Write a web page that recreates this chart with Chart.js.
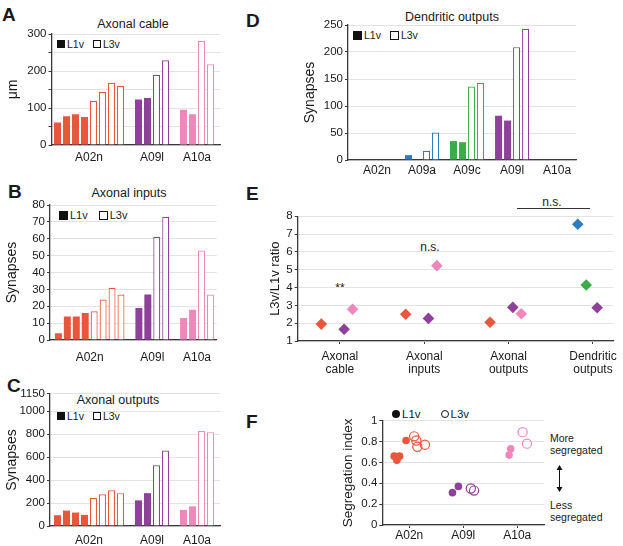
<!DOCTYPE html>
<html lang="en">
<head>
  <meta charset="UTF-8" />
  <title>L1v vs L3v neurons</title>
  <script src="https://cdn.jsdelivr.net/npm/chart.js"></script>
  <style>
    * { margin: 0; padding: 0; box-sizing: border-box; }
    body {
      width: 623px; height: 546px; position: relative; overflow: hidden;
      background: #fff; color: #1a1a1a;
      font-family: 'Liberation Sans', Arial, Helvetica, sans-serif;
    }
    canvas { position: absolute; }
    .txt { position: absolute; white-space: nowrap; line-height: 1; }
    .letra { font-weight: bold; font-size: 19px; }
    .titulo { font-size: 12.5px; transform: translateX(-50%); }
    .leg { position: absolute; display: flex; align-items: center; font-size: 10.5px; height: 10px; line-height: 10px; }
    .sq { display: inline-block; width: 8px; height: 8px; margin-right: 2px; }
    .sq.cheio { background: #111; }
    .sq.vazio { border: 1px solid #111; margin-left: 9px; }
    .dot { display: inline-block; width: 8px; height: 8px; border-radius: 50%; margin-right: 2px; }
    .dot.cheio { background: #111; }
    .dot.vazio { border: 1px solid #111; margin-left: 20px; }
    .nota { font-size: 12px; }
    .lado { position: absolute; font-size: 10.5px; line-height: 11.5px; }
  </style>
</head>
<body>
  <!-- panel letters -->
  <div class="txt letra" style="left:2px; top:5px;">A</div>
  <div class="txt letra" style="left:8px; top:182px;">B</div>
  <div class="txt letra" style="left:7px; top:376px;">C</div>
  <div class="txt letra" style="left:246px; top:11px;">D</div>
  <div class="txt letra" style="left:246px; top:184px;">E</div>
  <div class="txt letra" style="left:246px; top:412px;">F</div>

  <!-- panel titles -->
  <div class="txt titulo" style="left:133px; top:18px;">Axonal cable</div>
  <div class="txt titulo" style="left:129px; top:187px;">Axonal inputs</div>
  <div class="txt titulo" style="left:118px; top:394px;">Axonal outputs</div>
  <div class="txt titulo" style="left:452px; top:11px;">Dendritic outputs</div>

  <!-- legends -->
  <div class="leg" style="left:57px; top:39px;"><span class="sq cheio"></span>L1v<span class="sq vazio"></span>L3v</div>
  <div class="leg" style="left:59px; top:210px; font-size:11px;"><span class="sq cheio" style="width:9px;height:9px;"></span>L1v<span class="sq vazio" style="width:9px;height:9px;margin-left:11px;"></span>L3v</div>
  <div class="leg" style="left:57px; top:411px;"><span class="sq cheio"></span>L1v<span class="sq vazio"></span>L3v</div>
  <div class="leg" style="left:353px; top:30px;"><span class="sq cheio" style="width:9px;height:9px;"></span>L1v<span class="sq vazio" style="width:9px;height:9px;"></span>L3v</div>
  <div class="leg" style="left:392px; top:409px; font-size:11.5px;"><span class="dot cheio"></span>L1v<span class="dot vazio"></span>L3v</div>

  <!-- annotations panel E -->
  <div class="txt nota" style="left:340px; top:282px; transform:translateX(-50%);">**</div>
  <div class="txt nota" style="left:430px; top:241px; transform:translateX(-50%);">n.s.</div>
  <div class="txt nota" style="left:552px; top:196px; transform:translateX(-50%);">n.s.</div>
  <div style="position:absolute; left:517px; top:208px; width:73px; height:0; border-top:1px solid #333;"></div>

  <!-- side notes panel F -->
  <div class="lado" style="left:550px; top:433px;">More<br>segregated</div>
  <div class="lado" style="left:550px; top:500px;">Less<br>segregated</div>
  <svg style="position:absolute; left:555px; top:465px;" width="9" height="27" viewBox="0 0 9 27">
    <line x1="4.5" y1="3" x2="4.5" y2="24" stroke="#111" stroke-width="1"/>
    <polygon points="4.5,0 1.5,5 7.5,5" fill="#111"/>
    <polygon points="4.5,27 1.5,22 7.5,22" fill="#111"/>
  </svg>

  <script>
    // cores por tipo de neurônio
    const neuronColors = {
      A02n: '#e8573c',
      A09a: '#2e7bbf',
      A09c: '#3dab4a',
      A09l: '#8e4199',
      A10a: '#ee88bb',
    };

    // A - axonal cable (µm)
    const cableGroups = ['A02n', 'A09l', 'A10a'];
    const cableL1v = [[61, 78, 83, 76], [123, 127], [95, 83]];
    const cableL3v = [[119, 143, 168, 160], [190, 229], [281, 218]];

    // B - axonal inputs (synapses)
    const inputsGroups = ['A02n', 'A09l', 'A10a'];
    const inputsL1v = [[4, 14, 14, 16], [19, 27], [13, 18]];
    const inputsL3v = [[17, 24, 31, 27], [61, 73], [53, 27]];

    // C - axonal outputs (synapses)
    const outputsGroups = ['A02n', 'A09l', 'A10a'];
    const outputsL1v = [[94, 134, 117, 97], [223, 286], [140, 171]];
    const outputsL3v = [[246, 277, 311, 286], [529, 657], [826, 817]];

    // D - dendritic outputs (synapses)
    const dendGroups = ['A02n', 'A09a', 'A09c', 'A09l', 'A10a'];
    const dendL1v = [[0, 0], [9, 0], [35, 33], [82, 73], [0, 0]];
    const dendL3v = [[0, 0], [17, 51], [136, 143], [209, 243], [0, 0]];

    // E - L3v/L1v ratio
    const ratioCategories = [['Axonal', 'cable'], ['Axonal', 'inputs'], ['Axonal', 'outputs'], ['Dendritic', 'outputs']];
    const ratioTypes = ['A02n', 'A09a', 'A09c', 'A09l', 'A10a'];
    const ratioA02n = [1.95, 2.50, 2.05, null];
    const ratioA09a = [null, null, null, 7.55];
    const ratioA09c = [null, null, null, 4.14];
    const ratioA09l = [1.66, 2.27, 2.89, 2.87];
    const ratioA10a = [2.78, 5.23, 2.53, null];
    const ratioSpread = { A02n: -0.22, A09a: -0.18, A09c: -0.08, A09l: 0.05, A10a: 0.15 };

    // F - segregation index
    const segGroups = ['A02n', 'A09l', 'A10a'];
    const segL1v = [[0.66, 0.66, 0.62, 0.81], [0.31, 0.37], [0.73, 0.67]];
    const segL3v = [[0.85, 0.81, 0.75, 0.77], [0.35, 0.33], [0.89, 0.78]];
    const segL1vSpread = [[-0.28, -0.18, -0.23, -0.06], [-0.2, -0.09], [-0.12, -0.15]];
    const segL3vSpread = [[0.09, 0.13, 0.15, 0.29], [0.14, 0.2], [0.1, 0.18]];

    const axisColor = '#3a3a3a';
    const gridColor = '#e3e3e3';
    Chart.defaults.font.family = "'Liberation Sans', Arial, Helvetica, sans-serif";
    Chart.defaults.color = '#1a1a1a';

    function makeCanvas(left, top, w, h) {
      const c = document.createElement('canvas');
      c.width = w;
      c.height = h;
      c.style.left = left + 'px';
      c.style.top = top + 'px';
      c.style.width = w + 'px';
      c.style.height = h + 'px';
      document.body.appendChild(c);
      return c;
    }

    function yAxis(o) {
      return {
        min: o.min, max: o.max, bounds: 'data',
        grid: { color: gridColor, tickColor: axisColor, tickLength: 3, lineWidth: 1 },
        border: { color: axisColor, width: 1.3 },
        ticks: {
          stepSize: o.step, includeBounds: false, padding: 2, font: { size: 11.5 },
          callback: o.label || (v => v),
        },
        title: { display: true, text: o.title, font: { size: o.titleSize || 14 }, padding: { top: o.titlePad, bottom: 0 } },
        afterFit: s => { s.width = o.width; },
      };
    }

    function barPanel(groups, l1v, l3v, o) {
      const pontos = [], fills = [], strokes = [], widths = [], centros = [];
      let slot = 0;
      groups.forEach((g, gi) => {
        const primeiro = slot;
        const cor = neuronColors[g];
        l1v[gi].forEach(v => { pontos.push({ x: slot++, y: v }); fills.push(cor); strokes.push(cor); widths.push(0); });
        l3v[gi].forEach(v => { pontos.push({ x: slot++, y: v }); fills.push('#ffffff'); strokes.push(cor); widths.push(1.2); });
        centros.push((primeiro + slot - 1) / 2);
        slot++; // espaço vazio entre grupos
      });

      return new Chart(makeCanvas(o.left, o.top, o.w, o.h), {
        type: 'bar',
        data: {
          datasets: [{
            data: pontos,
            backgroundColor: fills,
            borderColor: strokes,
            borderWidth: widths,
            barPercentage: 0.78,
            categoryPercentage: 1,
          }],
        },
        options: {
          responsive: false,
          animation: false,
          events: [],
          layout: { padding: { top: o.padTop, right: o.padRight, left: 0, bottom: 0 } },
          plugins: { legend: { display: false }, tooltip: { enabled: false } },
          scales: {
            x: {
              type: 'linear', min: o.xMin, max: o.xMax, offset: false, bounds: 'data',
              grid: { display: false, drawTicks: false },
              border: { color: axisColor, width: 1.3 },
              afterBuildTicks: s => { s.ticks = centros.map(v => ({ value: v })); },
              ticks: {
                autoSkip: false, maxRotation: 0, padding: o.xPad, font: { size: 12 },
                callback: (v, i) => groups[i],
              },
              afterFit: s => { s.height = o.xH; },
            },
            y: yAxis(o.y),
          },
        },
      });
    }

    // A
    barPanel(cableGroups, cableL1v, cableL3v, {
      left: 0, top: 0, w: 222, h: 170, padTop: 34, padRight: 2,
      xMin: -0.67, xMax: 18.06, xH: 25, xPad: 5,
      y: { min: 0, max: 300, step: 50, width: 51.5, title: 'μm', titlePad: 4.6,
           label: v => (v % 100 === 0 ? v : '') },
    });

    // B
    barPanel(inputsGroups, inputsL1v, inputsL3v, {
      left: 0, top: 180, w: 222, h: 185, padTop: 25, padRight: 4,
      xMin: -0.94, xMax: 17.7, xH: 25, xPad: 10.5,
      y: { min: 0, max: 80, step: 10, width: 50, title: 'Synapses', titlePad: 4 },
    });

    // C
    barPanel(outputsGroups, outputsL1v, outputsL3v, {
      left: 0, top: 385, w: 222, h: 161, padTop: 7, padRight: 2,
      xMin: -0.83, xMax: 18.06, xH: 20, xPad: 7,
      y: { min: 0, max: 1150, step: 200, width: 50, title: 'Synapses', titlePad: 4 },
    });

    // D
    barPanel(dendGroups, dendL1v, dendL3v, {
      left: 290, top: 0, w: 290, h: 180, padTop: 25, padRight: 4,
      xMin: -1.72, xMax: 23.6, xH: 20, xPad: 3,
      y: { min: 0, max: 250, step: 50, width: 58, title: 'Synapses', titlePad: 11.6 },
    });

    // E
    const ratioSeries = { A02n: ratioA02n, A09a: ratioA09a, A09c: ratioA09c, A09l: ratioA09l, A10a: ratioA10a };
    new Chart(makeCanvas(255, 200, 368, 180), {
      type: 'scatter',
      data: {
        datasets: ratioTypes.map(t => ({
          label: t,
          data: ratioSeries[t]
            .map((v, i) => (v === null ? null : { x: i + ratioSpread[t], y: v }))
            .filter(p => p !== null),
          pointStyle: 'rectRot',
          pointRadius: 5.8,
          backgroundColor: neuronColors[t],
          borderWidth: 0,
        })),
      },
      options: {
        responsive: false,
        animation: false,
        events: [],
        layout: { padding: { top: 16.3, right: 1, left: 0, bottom: 0 } },
        plugins: { legend: { display: false }, tooltip: { enabled: false } },
        scales: {
          x: {
            type: 'linear', min: -0.5, max: 3.24, bounds: 'data',
            grid: { drawOnChartArea: false, tickLength: 3, tickColor: axisColor },
            border: { color: axisColor, width: 1.3 },
            afterBuildTicks: s => { s.ticks = ratioCategories.map((c, i) => ({ value: i })); },
            ticks: {
              autoSkip: false, maxRotation: 0, padding: 6, font: { size: 12, lineHeight: 1.1 },
              callback: (v, i) => ratioCategories[i],
            },
            afterFit: s => { s.height = 39; },
          },
          y: yAxis({ min: 1, max: 8, step: 1, width: 42.7, title: 'L3v/L1v ratio', titleSize: 13, titlePad: 12.2 }),
        },
      },
    });

    // F
    const segDatasets = [];
    segGroups.forEach((g, gi) => {
      segDatasets.push({
        data: segL1v[gi].map((v, k) => ({ x: gi + segL1vSpread[gi][k], y: v })),
        pointStyle: 'circle', pointRadius: 3.8,
        backgroundColor: neuronColors[g], borderWidth: 0,
      });
      segDatasets.push({
        data: segL3v[gi].map((v, k) => ({ x: gi + segL3vSpread[gi][k], y: v })),
        pointStyle: 'circle', pointRadius: 4.6,
        backgroundColor: 'rgba(255,255,255,0)', borderColor: neuronColors[g], borderWidth: 1.2,
      });
    });
    new Chart(makeCanvas(330, 400, 220, 146), {
      type: 'scatter',
      data: { datasets: segDatasets },
      options: {
        responsive: false,
        animation: false,
        events: [],
        layout: { padding: { top: 20.7, right: 4, left: 0, bottom: 0 } },
        plugins: { legend: { display: false }, tooltip: { enabled: false } },
        scales: {
          x: {
            type: 'linear', min: -0.5, max: 2.5, bounds: 'data',
            grid: { drawOnChartArea: false, tickLength: 3, tickColor: axisColor },
            border: { color: axisColor, width: 1.3 },
            afterBuildTicks: s => { s.ticks = segGroups.map((g, i) => ({ value: i })); },
            ticks: {
              autoSkip: false, maxRotation: 0, padding: 0, font: { size: 12 },
              callback: (v, i) => segGroups[i],
            },
            afterFit: s => { s.height = 21; },
          },
          y: yAxis({ min: 0, max: 1, step: 0.2, width: 52.3, title: 'Segregation index', titleSize: 13.5, titlePad: 9.9 }),
        },
      },
    });
  </script>
</body>
</html>
